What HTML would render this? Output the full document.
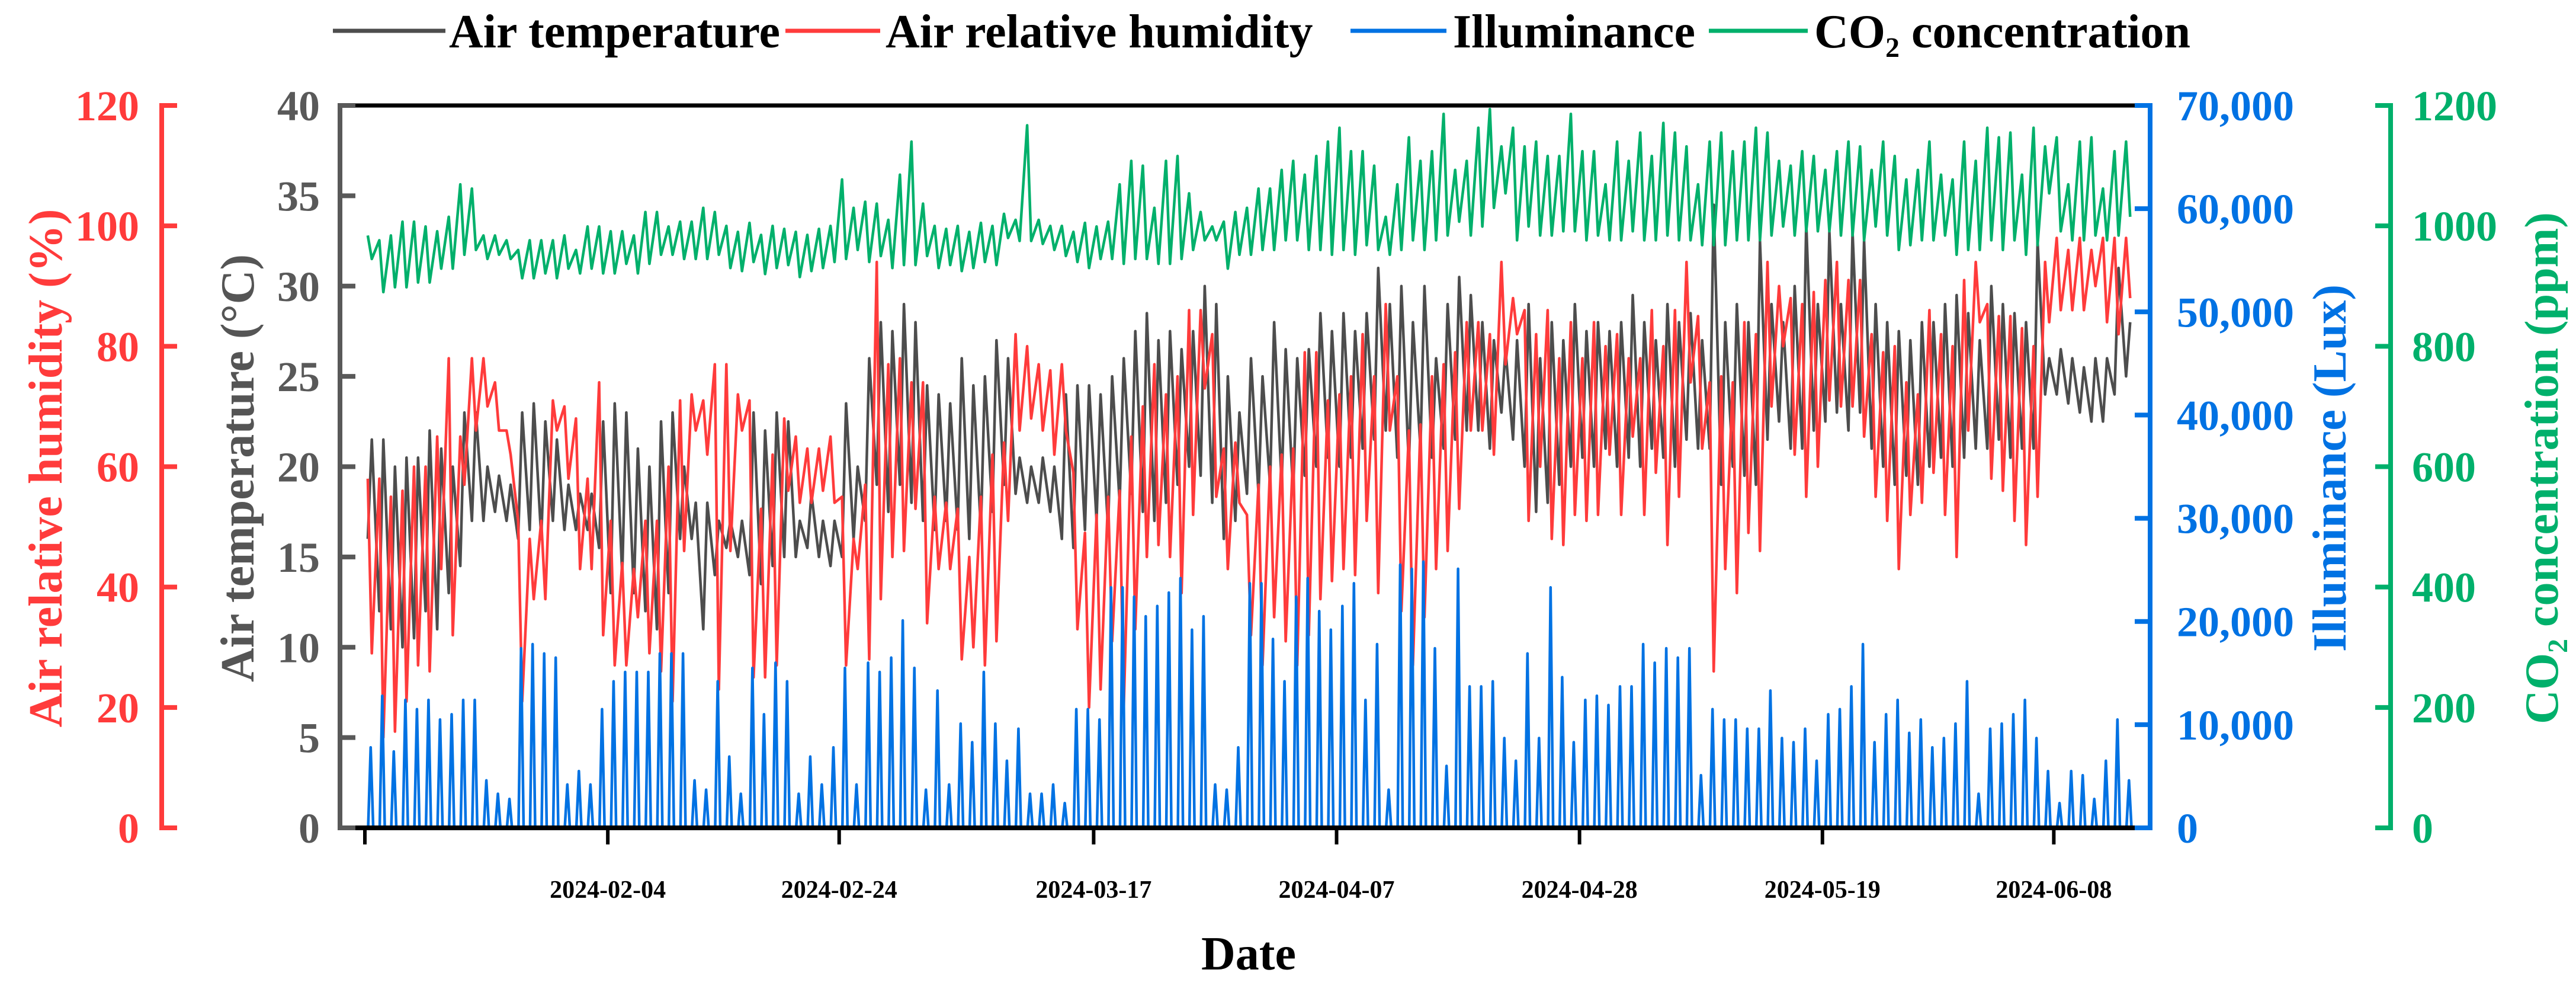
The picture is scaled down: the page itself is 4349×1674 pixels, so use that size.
<!DOCTYPE html>
<html><head><meta charset="utf-8"><style>
html,body{margin:0;padding:0;background:#fff;}
svg, svg text{font-family:"Liberation Serif","DejaVu Serif",serif;font-weight:bold;}
</style></head><body>
<svg id="chart" width="4349" height="1669" viewBox="0 0 4349 1669" xmlns="http://www.w3.org/2000/svg" font-family="Liberation Serif, serif" font-weight="bold">
<g id="legend">
  <g><line x1="562" y1="52" x2="752" y2="52" stroke="#4d4d4d" stroke-width="7"/><text x="758" y="80" font-size="80" fill="#000">Air temperature</text></g>
  <g><line x1="1326" y1="52" x2="1486" y2="52" stroke="#ff3b3b" stroke-width="7"/><text x="1495" y="80" font-size="80" fill="#000">Air relative humidity</text></g>
  <g><line x1="2280" y1="52" x2="2442" y2="52" stroke="#0072e3" stroke-width="7"/><text x="2453" y="80" font-size="80" fill="#000">Illuminance</text></g>
  <g><line x1="2885" y1="52" x2="3052" y2="52" stroke="#00b06b" stroke-width="7"/><text x="3063" y="80" font-size="80" fill="#000">CO₂ concentration</text></g>
</g>
<g id="series"></g>
<g id="axes"></g>
<text x="2108" y="1636" font-size="80" text-anchor="middle" fill="#000">Date</text>
<text transform="translate(104,790) rotate(-90)" font-size="80" text-anchor="middle" fill="#ff3b3b">Air relative humidity (%)</text>
<text transform="translate(428,790) rotate(-90)" font-size="80" text-anchor="middle" fill="#555">Air temperature (°C)</text>
<text transform="translate(3960,790) rotate(-90)" font-size="80" text-anchor="middle" fill="#0072e3">Illuminance (Lux)</text>
<text transform="translate(4318,790) rotate(-90)" font-size="80" text-anchor="middle" fill="#00b06b">CO₂ concentration (ppm)</text>
</svg>
<script>
const tMax=[21.5,21.5,20,20.5,20.5,22,21,20,23,23,20,19.5,19,23,23.5,22.5,21.5,19,18.5,18.5,22.5,23.5,23,21,20,22.5,23,20,18,18,17,
17,17,23,22,23,22.5,17,18.5,17,17,23.5,20,26,28,27.5,29,28,24.5,24,23.5,26,24.5,25,27,26,20.5,20,20.5,20,24,24.5,24.5,
24,25,26,27.5,28.5,27,27.5,26.5,27.5,30,29,25,23,26,25,28,26.5,26,26.5,28.5,27.5,28.5,27.5,28.5,31,29,30,28,30,26,29,30.5,29.5,
28,27,26.5,27,29,26,28,27,29,27.5,28,27.5,28,29.5,28,27,29,28,28.5,27,34.5,28,29,28,32.5,29,28,30,33.5,29,33,29,
33,32.5,29,28,27.5,27,28,28,29,29.5,28.5,27,30,29,28.5,28,32.5,26,26.5,26,25.5,26,26,31,28];
const tMin=[16,12,11,10,10.5,12,11,13,14.5,17,17,17.5,17,16,16.5,16,17,16.5,16.5,16.5,15.5,13,14,13,12,11,13,16,16,11,14,
15.5,15,14,13.5,14.5,15,15,15.5,15,14.5,15,16,17,19,17.5,19,18,17,16.5,17,16.5,16,16.5,17.5,19,18.5,18,18,17.5,16,15.5,16.5,
17,16.5,18,18.5,17.5,17,18,19,20,19.5,18,16,17,18.5,18.5,19,19,18.5,19.5,20,20.5,20,20.5,21,21.5,22,20.5,20,21,20.5,21,21.5,22,
22,21,23,21.5,20,17.5,18,19,20,20.5,20,21,20,20.5,20,21,20.5,20,21.5,21,21,19,20,19.5,19,21.5,22.5,21,21,22,22.5,23,
22,23,21,20,19,19.5,19,20,20.5,20,20.5,21,21,21.5,20.5,21,21,24,24,23.5,23,22.5,22.5,24,25];
const hMax=[58,58,55,56,60,60,65,78,65,78,78,74,66,51,48,51,71,70,68,58,74,51,44,43,51,51,60,71,72,71,77,
77,72,71,53,62,68,65,63,63,65,55,48,57,94,77,78,74,74,55,54,53,45,55,62,64,82,80,77,76,77,59,49,
52,55,56,65,70,77,72,75,86,86,82,63,64,52,57,60,62,63,79,79,71,72,75,82,75,87,75,66,67,75,77,79,84,
84,82,94,88,86,82,86,78,84,78,84,80,82,78,78,86,80,86,94,85,74,75,74,84,82,94,90,88,87,89,91,94,
91,91,82,79,80,74,72,86,82,80,91,94,87,85,85,83,80,94,98,96,98,96,98,98,98];
const hMin=[29,15,16,21,27,26,43,32,57,66,70,66,62,21,38,38,66,58,43,43,32,27,27,35,29,26,21,46,66,62,23,
46,66,25,25,27,56,54,54,56,54,27,43,28,38,45,46,53,34,43,43,28,30,27,31,51,66,68,66,62,66,33,20,
23,31,20,33,45,47,45,39,52,73,55,43,54,32,27,35,31,27,32,38,41,43,42,51,39,66,36,27,35,43,46,53,66,
66,62,77,82,51,60,48,47,52,51,52,62,52,65,52,59,47,55,74,63,26,43,39,49,46,70,80,62,55,60,71,70,
70,65,55,51,43,52,54,59,52,45,66,84,58,56,51,47,55,84,86,86,86,90,84,82,88];
const luxPeak=[7800,12800,7400,12400,11500,12400,10500,11000,12400,12400,4600,3300,2800,17400,17800,16900,16500,4200,5500,4200,11500,14200,15100,15100,15100,16900,16900,16900,4600,3700,14200,
6900,3300,15500,11000,16000,14200,3300,6900,4200,7800,15500,4200,16000,15100,16500,20100,15500,3700,13300,4200,10100,8300,15100,10100,6500,9600,3300,3300,4200,2400,11500,11500,
10500,23300,23300,22400,20500,21500,22800,24200,19200,20500,4200,3700,7800,23700,23700,18300,14200,22400,24200,21000,19200,21500,23700,12400,17800,3700,25500,25100,25800,17400,6000,25100,13700,
13700,14200,8700,6500,16900,8700,23300,14600,8300,12400,12800,11900,13700,13700,17800,16000,17400,16500,17400,5100,11500,10500,10500,9600,9600,13300,8700,8300,9600,6500,11000,11500,
13700,17800,8300,11000,12400,9200,10500,7800,8700,10100,14200,3300,9600,10100,11000,12400,8700,5500,2400,5500,5100,2800,6500,10500,4600];
const co2Max=[984,976,984,1007,1007,999,991,1015,1069,1062,984,984,976,960,976,976,976,984,960,999,999,991,991,984,1023,1023,999,1007,1007,1030,1023,
1000,990,1005,985,1000,995,990,985,995,1000,1077,1030,1040,1037,1010,1085,1140,1037,1000,995,1000,990,1005,1000,1020,1010,1167,1010,1000,1000,990,1005,
999,1007,1069,1108,1100,1030,1108,1116,1054,1023,999,1007,1023,1030,1062,1062,1093,1108,1085,1116,1140,1163,1124,1124,1100,1015,1069,1147,1108,1124,1186,1093,1108,
1163,1194,1132,1163,1132,1140,1116,1116,1186,1124,1124,1069,1140,1108,1155,1116,1171,1155,1132,1069,1140,1155,1124,1140,1163,1155,1108,1100,1124,1116,1093,1124,
1140,1132,1093,1140,1116,1077,1093,1140,1085,1077,1140,1108,1163,1147,1155,1085,1163,1132,1147,1069,1140,1147,1062,1124,1140];
const co2Min=[945,890,898,898,906,906,929,929,952,960,945,952,945,913,913,921,913,929,921,929,921,921,937,921,937,952,952,945,945,945,952,
930,925,940,920,930,935,915,925,930,940,945,960,940,950,930,935,935,950,930,935,925,930,940,935,980,975,975,970,960,950,940,930,
945,945,937,945,945,937,937,945,960,976,976,929,952,952,960,960,976,976,960,960,952,960,952,968,960,952,960,976,960,976,984,1007,984,
999,1030,1054,976,999,984,984,991,991,976,984,976,976,991,976,976,984,976,976,968,968,968,976,976,976,984,999,984,991,991,991,984,
984,976,999,984,960,968,976,976,984,952,960,960,976,960,976,952,968,1054,991,976,976,984,976,984,1015];
const tempTicks=[0,5,10,15,20,25,30,35,40];
const humTicks=[0,20,40,60,80,100,120];
const luxTicks=[0,10000,20000,30000,40000,50000,60000,70000];
const co2Ticks=[0,200,400,600,800,1000,1200];
const dateTickDays=[0,21,41,63,84,105,126,146];
const dateTickLabels=["","2024-02-04","2024-02-24","2024-03-17","2024-04-07","2024-04-28","2024-05-19","2024-06-08"];

const NS="http://www.w3.org/2000/svg";
const TOP=178,BOT=1397,H=BOT-TOP,X0=616,PXD=19.53;
const xOf=d=>X0+d*PXD;
const yT=v=>BOT-v/40*H, yH=v=>BOT-v/120*H, yL=v=>BOT-v/70000*H, yC=v=>BOT-v/1200*H;
function mk(tag,attrs,parent){const e=document.createElementNS(NS,tag);for(const k in attrs)e.setAttribute(k,attrs[k]);parent.appendChild(e);return e;}
const series=document.getElementById('series'), axes=document.getElementById('axes');

function linePath(pts){return pts.map((p,i)=>(i?'L':'M')+p[0].toFixed(1)+' '+p[1].toFixed(1)).join(' ');}
let pts=[];
for(let d=0;d<tMax.length;d++){pts.push([xOf(d+0.25),yT(tMin[d])]);pts.push([xOf(d+0.6),yT(tMax[d])]);}
let p=mk('path',{d:linePath(pts),fill:'none',stroke:'#4d4d4d','stroke-width':4.5,'stroke-linejoin':'round'},series);


pts=[];
for(let d=0;d<hMax.length;d++){pts.push([xOf(d+0.25),yH(hMax[d])]);pts.push([xOf(d+0.6),yH(hMin[d])]);}
p=mk('path',{d:linePath(pts),fill:'none',stroke:'#ff3b3b','stroke-width':4.5,'stroke-linejoin':'round'},series);


pts=[];
for(let d=0;d<luxPeak.length;d++){pts.push([xOf(d+0.28),yL(0)]);pts.push([xOf(d+0.5),yL(luxPeak[d])]);pts.push([xOf(d+0.72),yL(0)]);}
p=mk('path',{d:linePath(pts),fill:'none',stroke:'#0072e3','stroke-width':4.5,'stroke-linejoin':'round'},series);


pts=[];
for(let d=0;d<co2Max.length;d++){pts.push([xOf(d+0.25),yC(co2Max[d])]);pts.push([xOf(d+0.6),yC(co2Min[d])]);}
p=mk('path',{d:linePath(pts),fill:'none',stroke:'#00b06b','stroke-width':4.5,'stroke-linejoin':'round'},series);



let e=mk('line',{x1:574,y1:TOP,x2:3615,y2:TOP,stroke:'#000','stroke-width':7},axes);


e=mk('line',{x1:574,y1:BOT,x2:3630,y2:BOT,stroke:'#000','stroke-width':8},axes);


dateTickDays.forEach((d,i)=>{
  const x=xOf(d);
  const t=mk('line',{x1:x,y1:BOT,x2:x,y2:1425,stroke:'#000','stroke-width':6},axes);
  
  
  if(dateTickLabels[i]){
    const tx=mk('text',{x:x,y:1515,'font-size':42,'text-anchor':'middle',fill:'#000'},axes);
    tx.textContent=dateTickLabels[i];
    
    
  }
});
function yAxis(name,ax,tickDir,ticks,scale,color,labelX,anchor,fmt){
  const l=mk('line',{x1:ax,y1:TOP-4,x2:ax,y2:BOT+4,stroke:color,'stroke-width':8},axes);
  
  
  ticks.forEach(v=>{
    const y=scale(v);
    const t=mk('line',{x1:ax,y1:y,x2:ax+tickDir*26,y2:y,stroke:color,'stroke-width':8},axes);
    
    
    const tx=mk('text',{x:labelX,y:y+25,'font-size':72,'text-anchor':anchor,fill:color},axes);
    tx.textContent=fmt(v);
    
    
  });
}
yAxis('humidity',273,1,humTicks,yH,'#ff3b3b',235,'end',v=>String(v));
yAxis('temperature',574,1,tempTicks,yT,'#595959',540,'end',v=>String(v));
yAxis('illuminance',3630,-1,luxTicks,yL,'#0072e3',3675,'start',v=>v.toLocaleString('en-US'));
yAxis('co2',4036,-1,co2Ticks,yC,'#00b06b',4072,'start',v=>String(v));
</script>
</body></html>
